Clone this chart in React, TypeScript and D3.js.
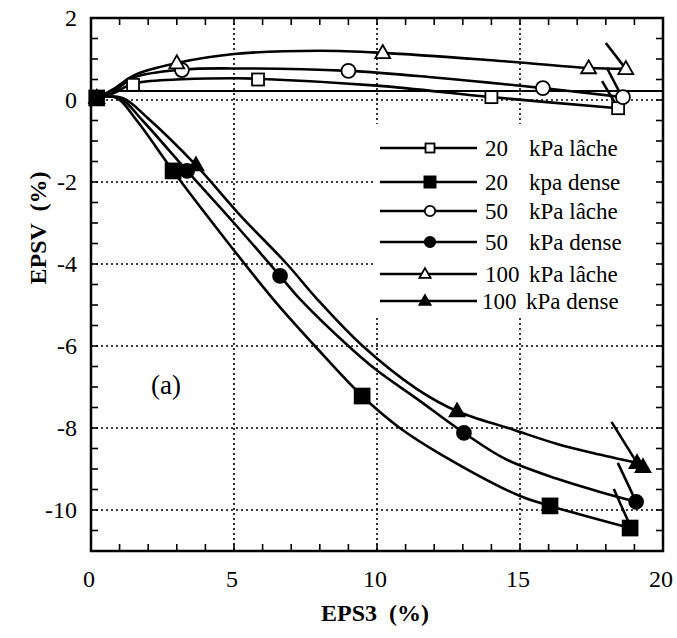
import React from "react";
import * as d3 from "d3";

type P = [number, number];

const xTicks = [0, 5, 10, 15, 20];
const yTicks = [2, 0, -2, -4, -6, -8, -10];

const seriesNums = ["20", "20", "50", "50", "100", "100"];
const seriesRest = ["kPa lâche", "kpa dense", "kPa lâche", "kPa dense", "kPa lâche", "kPa dense"];
const seriesSymbols = ["square", "square", "circle", "circle", "triangle", "triangle"];
const seriesFilled = [false, true, false, true, false, true];

// curve points
const curve20L: P[] = [[0.2, 0.05], [0.8, 0.17], [1.47, 0.4], [3, 0.5], [5, 0.53], [5.84, 0.52], [10, 0.35], [14, 0.07], [18.43, -0.2]];
const curve20D: P[] = [[0.2, 0.05], [0.9, 0.05], [1.6, -0.5], [2.87, -1.73], [4.2, -2.95], [6.36, -4.85], [7.83, -6], [9.48, -7.22], [10.8, -8], [12.2, -8.63], [15.0, -9.66], [16.05, -9.9], [18.85, -10.44]];
const curve50L: P[] = [[0.2, 0.05], [0.8, 0.22], [1.5, 0.55], [3.18, 0.74], [5, 0.77], [9.0, 0.71], [12, 0.55], [15.8, 0.29], [18.6, 0.07]];
const curve50D: P[] = [[0.2, 0.05], [1.0, 0.05], [1.8, -0.5], [3.36, -1.73], [5.0, -3.0], [6.61, -4.29], [7.3, -4.85], [9.0, -6], [9.97, -6.58], [11.4, -7.29], [13.04, -8.12], [14.5, -8.76], [16.3, -9.24], [17.8, -9.56], [19.06, -9.8]];
const curve100L: P[] = [[0.2, 0.05], [0.8, 0.27], [1.5, 0.6], [3.0, 0.9], [5, 1.12], [8, 1.2], [10.2, 1.15], [14, 0.97], [17.4, 0.78], [18.7, 0.76]];
const curve100D: P[] = [[0.2, 0.05], [1.1, 0.05], [2.0, -0.45], [3.67, -1.59], [5.2, -2.8], [6.85, -4], [7.9, -4.85], [9.5, -6], [11.4, -7.05], [12.8, -7.59], [14.72, -8.03], [16.3, -8.39], [17.55, -8.61], [19.09, -8.85]];

// markers
const pts20L: P[] = [[0.2, 0.05], [1.47, 0.37], [5.84, 0.5], [14.0, 0.07], [18.43, -0.2]];
const pts20D: P[] = [[0.2, 0.05], [2.87, -1.73], [9.48, -7.22], [16.05, -9.9], [18.85, -10.44]];
const pts50L: P[] = [[0.2, 0.05], [3.18, 0.73], [9.0, 0.71], [15.8, 0.29], [18.6, 0.07]];
const pts50D: P[] = [[0.2, 0.05], [3.36, -1.73], [6.61, -4.29], [13.04, -8.12], [19.06, -9.8]];
const pts100L: P[] = [[0.2, 0.05], [3.0, 0.9], [10.2, 1.15], [17.4, 0.78], [18.7, 0.76]];
const pts100D: P[] = [[0.2, 0.05], [3.67, -1.59], [12.8, -7.59], [19.09, -8.85], [19.3, -8.95]];

// unloading hooks
const hook20L: P[] = [[17.87, 0.46], [18.43, -0.2]];
const hook20D: P[] = [[18.28, -9.49], [18.8, -10.3]];
const hook50L: P[] = [[18.04, 0.78], [18.57, 0.07]];
const hook50D: P[] = [[18.42, -8.85], [19.06, -9.8]];
const hook100L: P[] = [[18.0, 1.39], [18.7, 0.76]];
const hook100D: P[] = [[18.2, -7.85], [19.09, -8.85]];

const refLine: P[] = [[0.9, 0.22], [20, 0.22]];

const curves = [curve20L, curve20D, curve50L, curve50D, curve100L, curve100D];
const markers = [pts20L, pts20D, pts50L, pts50D, pts100L, pts100D];
const hooks = [hook20L, hook20D, hook50L, hook50D, hook100L, hook100D];

const legendY = [148, 182, 211, 242, 274, 301];

const W = 677, H = 638;
const L = 91, R = 663, T = 18, B = 551;
const FONT = "'Liberation Serif', 'DejaVu Serif', 'Times New Roman', serif";

function Marker({ x, y, sym, filled, s }: { x: number; y: number; sym: string; filled: boolean; s: number }) {
  const fill = filled ? "#000" : "#fff";
  if (sym === "square") {
    const h = filled ? s * 0.62 : s * 0.5;
    return <rect x={x - h} y={y - h} width={2 * h} height={2 * h} fill={fill} stroke="#000" strokeWidth={1.8} />;
  }
  if (sym === "circle") {
    return <circle cx={x} cy={y} r={s * 0.58} fill={fill} stroke="#000" strokeWidth={1.8} />;
  }
  const h = s * 0.62;
  const p = d3.path();
  p.moveTo(x, y - h * 1.05);
  p.lineTo(x + h, y + h * 0.7);
  p.lineTo(x - h, y + h * 0.7);
  p.closePath();
  return <path d={p.toString()} fill={fill} stroke="#000" strokeWidth={1.8} strokeLinejoin="miter" />;
}

export default function App() {
  const x = d3.scaleLinear().domain([0, 20]).range([L, R]);
  const y = d3.scaleLinear().domain([-11, 2]).range([B, T]);
  const line = d3.line<P>().x((d) => x(d[0])).y((d) => y(d[1])).curve(d3.curveCatmullRom.alpha(0.5));
  const straight = d3.line<P>().x((d) => x(d[0])).y((d) => y(d[1]));

  const xMinor = d3.range(0, 21, 1);
  const yMinor = d3.range(-11, 2.01, 0.5);
  const tick = 7;
  const tf = { fontFamily: FONT } as React.CSSProperties;

  return (
    <svg width={W} height={H} style={{ position: "absolute", left: 0, top: 0, background: "#fff" }}>
      <rect x={0} y={0} width={W} height={H} fill="#fff" />
      {/* grid */}
      {xTicks.filter((v) => v > 0 && v < 20).map((v) => (
        <line key={"gx" + v} x1={x(v)} x2={x(v)} y1={T} y2={B} stroke="#000" strokeWidth={1.6} strokeDasharray="2,3" />
      ))}
      {yTicks.filter((v) => v < 2).map((v) => (
        <line key={"gy" + v} x1={L} x2={R} y1={y(v)} y2={y(v)} stroke="#000" strokeWidth={1.6} strokeDasharray="2,3" />
      ))}
      {/* legend background */}
      <rect x={376} y={124} width={R - 376 - 2} height={194} fill="#fff" />
      {/* ticks */}
      {xMinor.map((v) => (
        <g key={"tx" + v}>
          <line x1={x(v)} x2={x(v)} y1={B} y2={B - tick} stroke="#000" strokeWidth={1.6} />
          <line x1={x(v)} x2={x(v)} y1={T} y2={T + tick} stroke="#000" strokeWidth={1.6} />
        </g>
      ))}
      {yMinor.map((v) => (
        <g key={"ty" + v}>
          <line x1={L} x2={L + tick} y1={y(v)} y2={y(v)} stroke="#000" strokeWidth={1.6} />
          <line x1={R} x2={R - tick} y1={y(v)} y2={y(v)} stroke="#000" strokeWidth={1.6} />
        </g>
      ))}
      {/* frame */}
      <rect x={L} y={T} width={R - L} height={B - T} fill="none" stroke="#000" strokeWidth={2.5} />

      {/* reference line */}
      <path d={straight(refLine) || ""} fill="none" stroke="#000" strokeWidth={2.2} />

      {/* curves */}
      {curves.map((c, i) => (
        <path key={"c" + i} d={line(c) || ""} fill="none" stroke="#000" strokeWidth={2.6} />
      ))}
      {hooks.map((c, i) => (
        <path key={"h" + i} d={straight(c) || ""} fill="none" stroke="#000" strokeWidth={2.6} />
      ))}
      {markers.map((ms, i) =>
        ms.map((m, j) => (
          <Marker key={"m" + i + "-" + j} x={x(m[0])} y={y(m[1])} sym={seriesSymbols[i]} filled={seriesFilled[i]} s={12} />
        ))
      )}

      {/* tick labels */}
      {xTicks.map((v) => (
        <text key={"xl" + v} x={x(v) - 2} y={587} textAnchor="middle" fontSize={24} style={tf}>{v}</text>
      ))}
      {yTicks.map((v) => (
        <text key={"yl" + v} x={77} y={y(v) + 8} textAnchor="end" fontSize={24} style={tf}>{v}</text>
      ))}

      {/* axis titles */}
      <text x={375} y={621} textAnchor="middle" fontSize={24} fontWeight="bold" style={{ ...tf, whiteSpace: "pre" }}>{"EPS3  (%)"}</text>
      <text transform={`translate(46,228) rotate(-90)`} textAnchor="middle" fontSize={24} fontWeight="bold" style={{ ...tf, whiteSpace: "pre" }}>{"EPSV  (%)"}</text>

      {/* panel label */}
      <text x={151} y={394} fontSize={27} style={tf}>(a)</text>

      {/* legend */}
      {seriesNums.map((n, i) => (
        <g key={"lg" + i}>
          <line x1={380} x2={477} y1={legendY[i]} y2={legendY[i]} stroke="#000" strokeWidth={2.4} />
          <Marker x={i >= 4 ? 425 : 430} y={legendY[i]} sym={seriesSymbols[i]} filled={seriesFilled[i]} s={9} />
          <text x={i === 5 ? 482 : 485} y={legendY[i] + 8} fontSize={23} style={tf}>{n}</text>
          <text x={i === 5 ? 526 : 529} y={legendY[i] + 8} fontSize={23} style={tf}>{seriesRest[i]}</text>
        </g>
      ))}
    </svg>
  );
}
